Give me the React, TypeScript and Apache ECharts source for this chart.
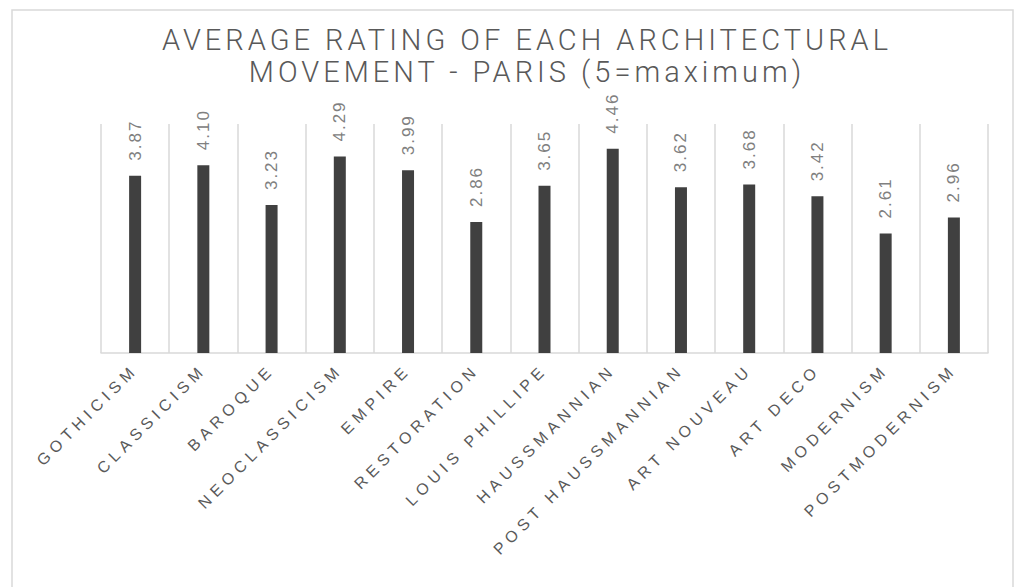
import React, { useEffect, useRef } from "react";
import * as echarts from "echarts";

const categories = [
  "GOTHICISM",
  "CLASSICISM",
  "BAROQUE",
  "NEOCLASSICISM",
  "EMPIRE",
  "RESTORATION",
  "LOUIS PHILLIPE",
  "HAUSSMANNIAN",
  "POST HAUSSMANNIAN",
  "ART NOUVEAU",
  "ART DECO",
  "MODERNISM",
  "POSTMODERNISM",
];

const ratings = [3.87, 4.1, 3.23, 4.29, 3.99, 2.86, 3.65, 4.46, 3.62, 3.68, 3.42, 2.61, 2.96];

const titleText = "AVERAGE RATING OF EACH ARCHITECTURAL\nMOVEMENT - PARIS (5=maximum)";

const css = `
.chartbox svg text[style*="29px"] { letter-spacing: 4px; }
.chartbox svg text[style*="16px"] { letter-spacing: 5px; }
.chartbox svg text[style*="17px"] { letter-spacing: 2px; }
`;

export default function App() {
  const ref = useRef<HTMLDivElement>(null);
  useEffect(() => {
    const chart = echarts.init(ref.current!, null, { renderer: "svg" });
    chart.setOption({
      animation: false,
      backgroundColor: "#ffffff",
      title: {
        text: titleText,
        left: 522,
        textAlign: "center",
        top: 19,
        textStyle: {
          fontFamily: "Roboto",
          fontSize: 29,
          fontWeight: 300,
          color: "#595959",
          lineHeight: 32,
        },
      },
      graphic: [
        {
          type: "rect",
          shape: { x: 12, y: 10, width: 1001, height: 600 },
          style: { fill: "none", stroke: "#d9d9d9", lineWidth: 1.5 },
          silent: true,
        },
      ],
      grid: { left: 101, right: 29, top: 124, bottom: 234 },
      xAxis: {
        type: "category",
        data: categories,
        axisLine: { show: true, lineStyle: { color: "#d9d9d9", width: 1.5 } },
        axisTick: { show: false },
        splitLine: { show: true, lineStyle: { color: "#d9d9d9", width: 1.5 } },
        axisLabel: {
          interval: 0,
          rotate: 45,
          margin: 14,
          color: "#595959",
          fontFamily: "Liberation Sans",
          fontSize: 16,
        },
      },
      yAxis: {
        type: "value",
        min: 0,
        max: 5,
        show: false,
        splitLine: { show: false },
      },
      series: [
        {
          type: "bar",
          data: ratings,
          barWidth: 12,
          itemStyle: { color: "#404040" },
          label: {
            show: true,
            position: "top",
            rotate: 90,
            align: "left",
            verticalAlign: "middle",
            distance: 15,
            color: "#808080",
            fontFamily: "Liberation Sans",
            fontSize: 17,
            formatter: (p: any) => Number(p.value).toFixed(2),
          },
        },
      ],
    });
    return () => chart.dispose();
  }, []);
  return (
    <>
      <style>{css}</style>
      <div
        ref={ref}
        className="chartbox"
        style={{ position: "absolute", left: 0, top: 0, width: 1017, height: 587 }}
      />
    </>
  );
}
